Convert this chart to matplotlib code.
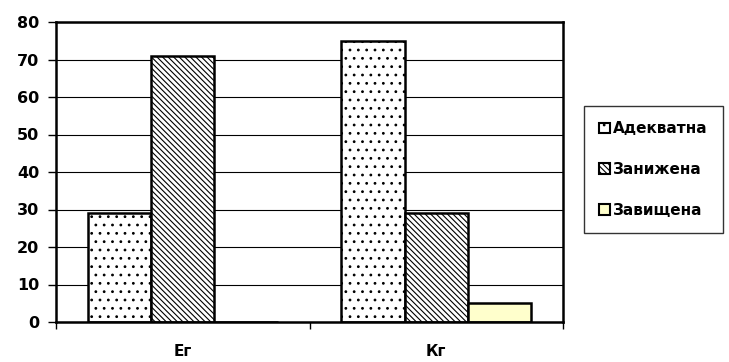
import matplotlib
matplotlib.use("Agg")
import matplotlib.pyplot as plt
import numpy as np
from matplotlib.patches import Patch

categories = ["Ег", "Кг"]
series_names = ["Адекватна", "Занижена", "Завищена"]
adekvatna = [29, 75]
zanizhena = [71, 29]
zavyshchena = [0, 5]
yticks = [0, 10, 20, 30, 40, 50, 60, 70, 80]

plt.rcParams['font.family'] = ['DejaVu Sans']
plt.rcParams['font.weight'] = 'bold'
plt.rcParams['hatch.linewidth'] = 0.8

fig = plt.figure(figsize=(7.29, 3.62), dpi=100)
ax = fig.add_axes([56/729, 1-322/362, (563-56)/729, 300/362])

x = np.arange(len(categories))
w = 0.25
series = [adekvatna, zanizhena, zavyshchena]
faces = ["white", "white", "#FFFFCC"]
hatches = ["..", "\\" * 6, None]
for i, (vals, fc, h) in enumerate(zip(series, faces, hatches)):
    ax.bar(x + (i - 1) * w, vals, w, color=fc, edgecolor="black",
           linewidth=1.8, hatch=h, zorder=3, label=series_names[i])

ax.set_xlim(-0.5, 1.5)
ax.set_ylim(0, 80)
ax.set_yticks(yticks)
ax.set_yticklabels([str(t) for t in yticks], fontsize=11.5, fontweight='bold')
ax.set_xticks([-0.5, 0.5, 1.5], minor=False)
ax.set_xticklabels([])
ax.set_xticks(x, minor=True)
ax.set_xticklabels(categories, minor=True, fontsize=11, fontweight='bold')
ax.tick_params(axis='x', which='minor', length=0, pad=16)
ax.tick_params(axis='x', which='major', length=5, width=1, direction='out')
ax.tick_params(axis='y', length=6, width=1, direction='out', pad=6)
ax.grid(axis='y', color='black', linewidth=0.8, zorder=0)
for s in ax.spines.values():
    s.set_linewidth(1.8)
    s.set_zorder(4)

handles = [Patch(facecolor=f, edgecolor='black', hatch=h, linewidth=1.5)
           for f, h in zip(faces, hatches)]
leg = fig.legend(handles, series_names, loc='upper left',
                 bbox_to_anchor=(584/729, 1-106/362),
                 frameon=True, fancybox=False, edgecolor='black',
                 handlelength=0.7, handleheight=0.7, handletextpad=0.2,
                 labelspacing=1.68, borderpad=1.0, borderaxespad=0,
                 prop={'weight': 'bold', 'size': 11})
leg.get_frame().set_linewidth(1.0)

fig.savefig("out.png", dpi=100)
